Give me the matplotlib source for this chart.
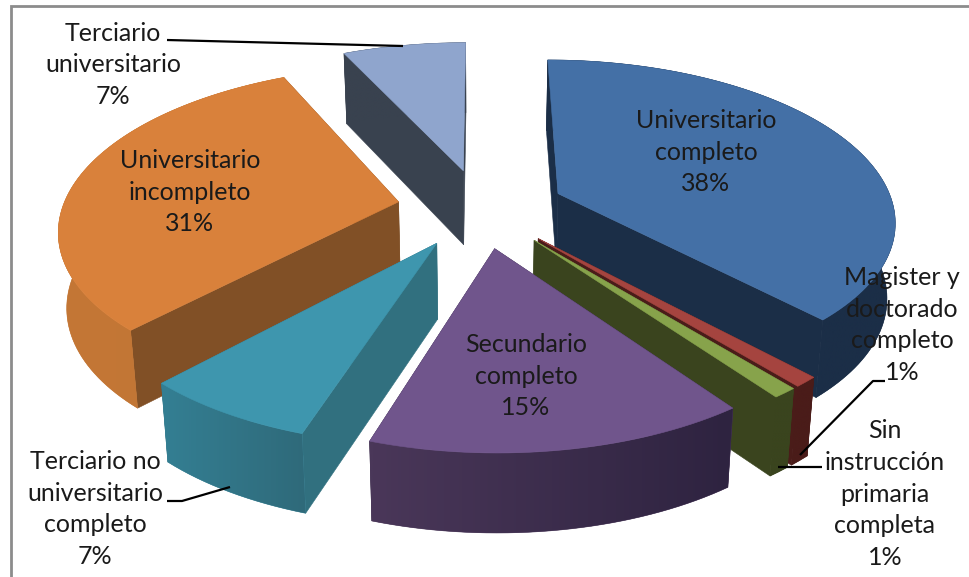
import numpy as np
from matplotlib import pyplot as plt
from matplotlib.colors import to_rgb
from matplotlib.patches import Polygon

# data, in pie order (clockwise from the top)
categories = ["Universitario\ncompleto", "Magister y\ndoctorado\ncompleto",
              "Sin\ninstrucción\nprimaria\ncompleta", "Secundario\ncompleto",
              "Terciario no\nuniversitario\ncompleto", "Universitario\nincompleto",
              "Terciario\nuniversitario"]
shares = [38, 1, 1, 15, 7, 31, 7]

# colours: top face, radial walls, outer wall left side, outer wall right side
top_colors = ["#4470A6", "#A5443F", "#87A34B", "#70558C", "#3E96AE", "#D9813B", "#8FA5CD"]
side_colors = ["#1B2E47", "#4A1C19", "#3A441E", "#2F2440", "#31707F", "#815026", "#39424F"]
outer_left = ["#1B2E47", "#4A1C19", "#3A441E", "#4A3759", "#347F93", "#C47735", "#39424F"]
outer_right = ["#1B2E47", "#4A1C19", "#3A441E", "#2E2340", "#2F6A7A", "#C07636", "#39424F"]

# label centres and leader lines, in pixels
label_xy = [(706, 152), (902, 325), (885, 494), (526, 376), (95, 509), (190, 192), (113, 65)]
leaders = [[(167, 40), (403, 46)],
           [(885, 381), (873, 381), (800, 455)],
           [(822, 467), (778, 467)],
           [(167, 501), (182, 501), (230, 487)]]

# projection of the tilted pie
CX, CY = 481, 208
A, B = 336, 158.5
PERSP = 0.155
EXPLODE = 0.25


def project(x, y):
    s = 1 / (1 + PERSP * y)
    return CX + A * x * s, CY - B * y * s


# drop a top point down to the bottom of the wall
def drop(px, py, y):
    return CX + (px - CX) * 0.98, py + 75 - 4 * y


def draw_slice(t0, t1, top, side, cl, cr):
    mid = (t0 + t1) / 2
    ox, oy = EXPLODE * np.sin(mid), EXPLODE * np.cos(mid)
    ts = np.linspace(t0, t1, max(int((t1 - t0) * 40), 3))
    xs = ox + np.sin(ts)
    ys = oy + np.cos(ts)
    px, py = project(xs, ys)
    bx, by = drop(px, py, ys)
    ax0, ay0 = project(ox, oy)
    bx0, by0 = drop(ax0, ay0, oy)

    # radial walls, back one first
    walls = [(ys[0], px[0], py[0], bx[0], by[0]), (ys[-1], px[-1], py[-1], bx[-1], by[-1])]
    walls.sort(key=lambda w: -w[0])
    for _, wx, wy, wbx, wby in walls:
        ax.fill([ax0, wx, wbx, bx0], [ay0, wy, wby, by0], color=side, lw=0.4, zorder=1)

    # outer wall: horizontal gradient clipped to the wall shape
    wall = np.c_[np.r_[px, bx[::-1]], np.r_[py, by[::-1]]]
    shape = Polygon(wall, closed=True, color=cl, lw=0.4, zorder=1)
    ax.add_patch(shape)
    grad = np.linspace(np.array(to_rgb(cl)), np.array(to_rgb(cr)), 64)[None, :, :]
    im = ax.imshow(grad, extent=[wall[:, 0].min(), wall[:, 0].max(), wall[:, 1].max(), wall[:, 1].min()],
                   aspect="auto", interpolation="bilinear", zorder=1)
    im.set_clip_path(shape)

    ax.fill(np.r_[ax0, px], np.r_[ay0, py], color=top, lw=0.4, zorder=1)


fig = plt.figure(figsize=(9.69, 5.77), dpi=100)
ax = fig.add_axes([0, 0, 1, 1])

edges = np.cumsum([0] + shares) / sum(shares) * 2 * np.pi
mids = (edges[:-1] + edges[1:]) / 2
for i in np.argsort(-np.cos(mids)):     # back slices first
    draw_slice(edges[i], edges[i + 1], top_colors[i], side_colors[i], outer_left[i], outer_right[i])

for line in leaders:
    ax.plot(*zip(*line), color="black", lw=1.6, solid_capstyle="butt", zorder=2)

for name, val, (x, y) in zip(categories, shares, label_xy):
    ax.text(x, y, f"{name}\n{val}%", ha="center", va="center", fontsize=18,
            family="Lato", color="#1a1a1a", linespacing=1.46, zorder=3)

# chart frame
ax.plot([11.5, 11.5, 969], [577, 5.5, 5.5], color="#8C8C8C", lw=2, solid_joinstyle="miter", zorder=2)

ax.set_xlim(0, 969)
ax.set_ylim(577, 0)
ax.axis("off")

fig.savefig("out.png", dpi=100)
